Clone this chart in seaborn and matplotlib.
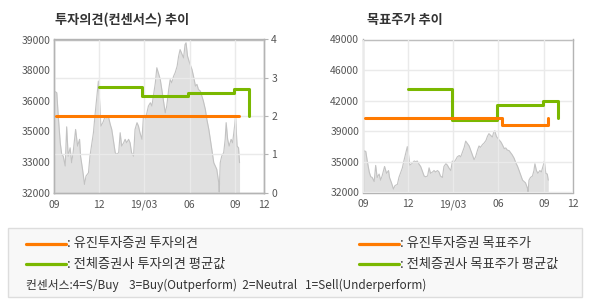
import matplotlib
matplotlib.use("Agg")
import matplotlib.pyplot as plt
from matplotlib.lines import Line2D
from matplotlib.patches import Rectangle
import seaborn as sns
import pandas as pd

sns.set_style("white")
plt.rcParams['font.family'] = ['Noto Sans CJK KR', 'DejaVu Sans']

# ---- data ----
price_days = [0, 5, 8, 12, 15, 18, 22, 25, 28, 32, 35, 38, 43, 47, 51, 53, 57, 61,
              64, 69, 72, 76, 79, 82, 86, 89, 91, 94, 98, 103, 106, 109, 113, 116,
              119, 123, 126, 130, 133, 136, 140, 143, 146, 150, 153, 156, 160, 163,
              167, 170, 173, 177, 180, 183, 187, 190, 194, 197, 200, 204, 207, 210,
              214, 217, 221, 224, 227, 231, 234, 237, 241, 244, 248, 251, 254, 258,
              261, 264, 266, 269, 273, 278, 281, 285, 288, 291, 295, 298, 301, 305,
              308, 312, 315, 318, 322, 325, 328, 332, 333, 335, 338, 342, 345, 347,
              350, 353, 357, 360, 364, 366, 369, 372, 374]
price_values = [36640, 36570, 35500, 34280, 33750, 33670, 33220, 35010, 33670, 34050,
                33370, 33830, 34890, 34130, 34440, 33670, 33070, 32380, 32760, 32910,
                33670, 34280, 34740, 35500, 36410, 37100, 36410, 35040, 35200, 35500,
                35420, 35500, 35120, 34890, 34440, 33830, 33750, 33830, 34740, 34130,
                34280, 34440, 34280, 34440, 34280, 33830, 33670, 34890, 35200, 35040,
                34740, 34440, 35500, 35350, 35650, 35960, 36110, 35960, 36410, 37020,
                37710, 37480, 37170, 36720, 36110, 35650, 35960, 36720, 37170, 37020,
                37330, 37480, 37780, 38240, 38540, 38320, 38160, 38770, 38850, 38240,
                37940, 37630, 37330, 36870, 36950, 36720, 36640, 36410, 36190, 35800,
                35350, 34890, 34440, 33980, 33370, 33220, 33070, 32460, 32030, 33370,
                33670, 33830, 34440, 35200, 34440, 34130, 34440, 34280, 35040, 35500,
                34130, 34050, 33370]

opinion_days = [3, 373]
opinion_values = [2.0, 2.0]
avg_opinion_days = [91, 178, 269, 363, 394]
avg_opinion_values = [2.75, 2.52, 2.60, 2.70, 2.0]

target_days = [3, 280, 374]
target_values = [40300, 39500, 40300]
avg_target_days = [91, 180, 270, 363, 394]
avg_target_values = [43450, 40000, 41700, 42150, 40300]

x_tick_days = [0, 91, 181, 273, 365, 424]
x_tick_labels = ["09", "12", "19/03", "06", "09", "12"]
left_price_labels = ["32000", "33000", "35000", "36000", "38000", "39000"]
right_price_labels = ["32000", "35000", "39000", "42000", "46000", "49000"]
opinion_labels = ["0", "1", "2", "3", "4"]

titles = ["투자의견(컨센서스) 추이", "목표주가 추이"]
legend_left = [": 유진투자증권 투자의견", ": 전체증권사 투자의견 평균값"]
legend_right = [": 유진투자증권 목표주가", ": 전체증권사 목표주가 평균값"]
consensus_note = "컨센서스:4=S/Buy    3=Buy(Outperform)  2=Neutral   1=Sell(Underperform)"

ORANGE = "#ff7a00"
GREEN = "#7ab800"
SPINE = "#b4b4b4"
GRID = "#eaeaea"
TXT = "#555555"

W, H = 590, 300
fig = plt.figure(figsize=(W / 100, H / 100), dpi=100)


def rect(x0, y0, x1, y1):
    return [x0 / W, 1 - y1 / H, (x1 - x0) / W, (y1 - y0) / H]


price_df = pd.DataFrame({"day": price_days, "price": price_values})


def style_axis(ax):
    for s in ax.spines.values():
        s.set_color(SPINE)
        s.set_linewidth(1.0)
    ax.tick_params(colors=SPINE, labelcolor=TXT, labelsize=7.5, length=3, width=0.8)


def draw_price(ax, ymax, step, labels, hgrid):
    ax.fill_between(price_df["day"], price_df["price"], 32000, color="#e0e0e0", lw=0, zorder=1)
    sns.lineplot(data=price_df, x="day", y="price", ax=ax, color="#c2c2c2", lw=0.8,
                 estimator=None, zorder=1.5)
    ax.set_xlim(0, 424)
    ax.set_ylim(32000, ymax)
    ax.set_xticks(x_tick_days)
    ax.set_xticklabels(x_tick_labels)
    ax.set_yticks([32000 + step * i for i in range(len(labels))])
    ax.set_yticklabels(labels)
    ax.set_xlabel("")
    ax.set_ylabel("")
    ax.set_axisbelow(False)
    ax.grid(axis="x", color=GRID, lw=1.0, zorder=2.5)
    if hgrid:
        ax.grid(axis="y", color=GRID, lw=1.0, zorder=2.5)
    style_axis(ax)
    ax.tick_params(axis="y", length=0, pad=3)
    ax.tick_params(axis="x", pad=2)


# ---- left chart: investment opinion ----
ax1 = fig.add_axes(rect(54.3, 39.5, 264.3, 192.7))
draw_price(ax1, 39000, 1400, left_price_labels, hgrid=False)
ax1b = ax1.twinx()
ax1b.patch.set_alpha(0)
ax1b.set_ylim(0, 4)
ax1b.set_yticks(range(len(opinion_labels)))
ax1b.set_yticklabels(opinion_labels)
ax1b.set_axisbelow(True)
ax1b.grid(axis="y", color=GRID, lw=1.0)
sns.lineplot(x=opinion_days, y=opinion_values, ax=ax1b, color=ORANGE, lw=2.2,
             drawstyle="steps-post", estimator=None, zorder=4)
sns.lineplot(x=avg_opinion_days, y=avg_opinion_values, ax=ax1b, color=GREEN, lw=2.2,
             drawstyle="steps-post", estimator=None, zorder=4)
ax1b.set_xlim(0, 424)
ax1b.set_ylim(0, 4)
ax1b.set_ylabel("")
style_axis(ax1b)
ax1b.tick_params(axis="y", length=3, pad=2)

# ---- right chart: target price ----
ax2 = fig.add_axes(rect(363.3, 39.5, 573.0, 192.5))
draw_price(ax2, 49000, 3400, right_price_labels, hgrid=True)
sns.lineplot(x=avg_target_days, y=avg_target_values, ax=ax2, color=GREEN, lw=2.2,
             drawstyle="steps-post", estimator=None, zorder=4)
sns.lineplot(x=target_days, y=target_values, ax=ax2, color=ORANGE, lw=2.2,
             drawstyle="steps-post", estimator=None, zorder=4)
ax2.set_xlim(0, 424)
ax2.set_ylim(32000, 49000)
ax2.set_ylabel("")

# titles
fig.text(55 / W, 1 - 20 / H, titles[0], fontsize=9.5, fontweight="bold", color="#333333",
         ha="left", va="center")
fig.text(367 / W, 1 - 20 / H, titles[1], fontsize=9.5, fontweight="bold", color="#333333",
         ha="left", va="center")

# ---- legend box ----
fig.patches.append(Rectangle((8 / W, 1 - 297 / H), 574 / W, 69 / H, transform=fig.transFigure,
                             facecolor="#f8f8f8", edgecolor="#dddddd", lw=1.0, zorder=0))
rows_y = [243.5, 264.3]
colors = [ORANGE, GREEN]
for i in range(2):
    y = 1 - rows_y[i] / H
    fig.lines.append(Line2D([26 / W, 66 / W], [y, y], transform=fig.transFigure,
                            color=colors[i], lw=2.3))
    fig.text(67 / W, y, legend_left[i], fontsize=9.5, color="#333333", ha="left", va="center")
    fig.lines.append(Line2D([359 / W, 399 / W], [y, y], transform=fig.transFigure,
                            color=colors[i], lw=2.3))
    fig.text(400 / W, y, legend_right[i], fontsize=9.5, color="#333333", ha="left", va="center")
fig.text(26 / W, 1 - 285 / H, consensus_note, fontsize=8.5, color="#333333",
         ha="left", va="center")

fig.savefig("out.png", dpi=100)
